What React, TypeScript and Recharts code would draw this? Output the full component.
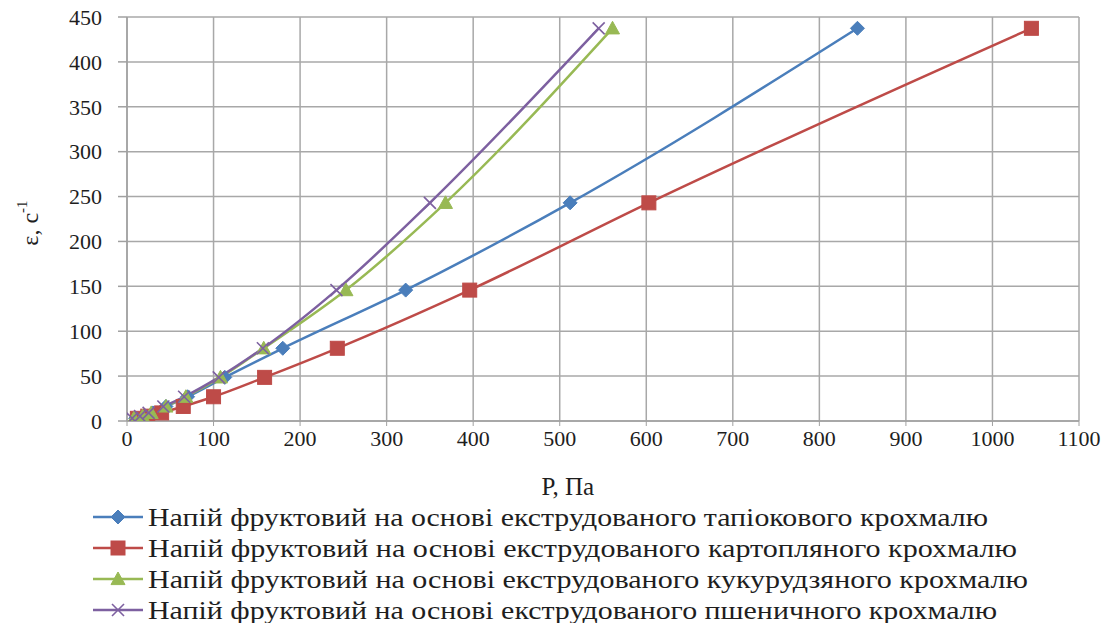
import React from 'react';
import { LineChart, Line, XAxis, YAxis, CartesianGrid, Legend } from 'recharts';

const shearRates = [3, 5.4, 9, 16.2, 27, 48.6, 81, 145.8, 243, 437.4];
const tapiocaP = [10, 20, 30, 45, 70, 113, 180, 322, 512, 844];
const potatoP = [12, 24, 40, 65, 100, 159, 243, 396, 603, 1045];
const cornP = [8, 18, 28, 45, 68, 108, 158, 253, 368, 561];
const wheatP = [6, 15, 25, 42, 66, 106, 157, 242, 350, 545];

const xTicks = [0, 100, 200, 300, 400, 500, 600, 700, 800, 900, 1000, 1100];
const yTicks = [0, 50, 100, 150, 200, 250, 300, 350, 400, 450];

const seriesNames = [
  'Напій фруктовий на основі екструдованого тапіокового крохмалю',
  'Напій фруктовий на основі екструдованого картопляного крохмалю',
  'Напій фруктовий на основі екструдованого кукурудзяного крохмалю',
  'Напій фруктовий на основі екструдованого пшеничного крохмалю',
];
const colors = ['#4a7ebb', '#be4b48', '#98b954', '#7d60a0'];
const markers = ['diamond', 'square', 'triangle', 'cross'];
const legendTextLengths = [840, 869, 880, 849];

const toPoints = (xs: number[]) => xs.map((x, i) => ({ x, y: shearRates[i] }));
const seriesData = [toPoints(tapiocaP), toPoints(potatoP), toPoints(cornP), toPoints(wheatP)];

const FONT = 'Liberation Serif';
const TEXT = '#1e1e1e';

function Marker({ kind, cx, cy, color }: { kind: string; cx: number; cy: number; color: string }) {
  if (cx == null || cy == null || isNaN(cx) || isNaN(cy)) return null;
  if (kind === 'diamond') {
    const s = 7;
    return <polygon points={`${cx},${cy - s} ${cx + s},${cy} ${cx},${cy + s} ${cx - s},${cy}`} fill={color} stroke={color} strokeWidth={1} />;
  }
  if (kind === 'square') {
    const s = 7;
    return <rect x={cx - s} y={cy - s} width={2 * s} height={2 * s} fill={color} stroke={color} strokeWidth={1} />;
  }
  if (kind === 'triangle') {
    const s = 7;
    return <polygon points={`${cx},${cy - s} ${cx + s},${cy + s * 0.8} ${cx - s},${cy + s * 0.8}`} fill={color} stroke={color} strokeWidth={1} />;
  }
  const s = 6;
  return (
    <g stroke={color} strokeWidth={1.6}>
      <line x1={cx - s} y1={cy - s} x2={cx + s} y2={cy + s} />
      <line x1={cx - s} y1={cy + s} x2={cx + s} y2={cy - s} />
    </g>
  );
}

const makeDot = (i: number) => (props: any) => (
  <Marker key={`d${i}-${props.index}`} kind={markers[i]} cx={props.cx} cy={props.cy} color={colors[i]} />
);

const renderLegend = () => (
  <svg width={960} height={123} style={{ display: 'block' }}>
    {seriesNames.map((name, i) => {
      const cy = 17 + i * 31;
      return (
        <g key={name}>
          <line x1={3} x2={53} y1={cy} y2={cy} stroke={colors[i]} strokeWidth={2.5} />
          <Marker kind={markers[i]} cx={28} cy={cy} color={colors[i]} />
          <text
            x={58}
            y={cy}
            dominantBaseline="central"
            fontFamily={FONT}
            fontSize={25}
            fill={TEXT}
            textLength={legendTextLengths[i]}
            lengthAdjust="spacingAndGlyphs"
          >
            {name}
          </text>
        </g>
      );
    })}
  </svg>
);

const XLabel = (props: any) => {
  const vb = props.viewBox || { x: 127, y: 421, width: 952, height: 72 };
  return (
    <text x={vb.x + vb.width * 0.463} y={vb.y + 74} textAnchor="middle" fontFamily={FONT} fontSize={25} fill={TEXT}>
      P, Па
    </text>
  );
};

const YLabel = (props: any) => {
  const vb = props.viewBox || { x: 0, y: 17, width: 127, height: 404 };
  const cx = vb.x + 30;
  const cy = vb.y + vb.height / 2 + 4;
  return (
    <text
      x={cx}
      y={cy}
      transform={`rotate(-90 ${cx} ${cy})`}
      textAnchor="middle"
      dominantBaseline="central"
      fontFamily={FONT}
      fontSize={24}
      fill={TEXT}
    >
      ε, с
      <tspan fontSize={15} dy={-8}>-1</tspan>
    </text>
  );
};

export default function App() {
  const tickStyle = { fontSize: 22, fontFamily: FONT, fill: TEXT };
  return (
    <div style={{ position: 'absolute', left: 0, top: 0, width: 1115, height: 623, background: '#fff' }}>
      <LineChart width={1115} height={623} margin={{ top: 17, right: 36, left: 0, bottom: 7 }}>
        <CartesianGrid stroke="#a8a8a8" strokeWidth={1.5} />
        <XAxis
          type="number"
          dataKey="x"
          domain={[0, 1100]}
          ticks={xTicks}
          allowDataOverflow
          height={72}
          tick={tickStyle}
          tickSize={5}
          tickMargin={4}
          axisLine={{ stroke: '#a0a0a0', strokeWidth: 1.5 }}
          tickLine={{ stroke: '#a0a0a0' }}
          label={<XLabel />}
        />
        <YAxis
          type="number"
          dataKey="y"
          domain={[0, 450]}
          ticks={yTicks}
          allowDataOverflow
          width={127}
          tick={tickStyle}
          tickSize={9}
          tickMargin={16}
          axisLine={{ stroke: '#a0a0a0', strokeWidth: 1.5 }}
          tickLine={{ stroke: '#a0a0a0', strokeWidth: 1.5 }}
          label={<YLabel />}
        />
        <Legend
          verticalAlign="bottom"
          align="left"
          layout="horizontal"
          content={renderLegend}
          wrapperStyle={{ left: 90, top: 500, width: 960, height: 123, margin: 0 }}
        />
        {seriesData.map((d, i) => (
          <Line
            key={seriesNames[i]}
            name={seriesNames[i]}
            data={d}
            dataKey="y"
            type="monotone"
            stroke={colors[i]}
            strokeWidth={2.5}
            dot={makeDot(i)}
            activeDot={false}
            isAnimationActive={false}
          />
        ))}
      </LineChart>
    </div>
  );
}
